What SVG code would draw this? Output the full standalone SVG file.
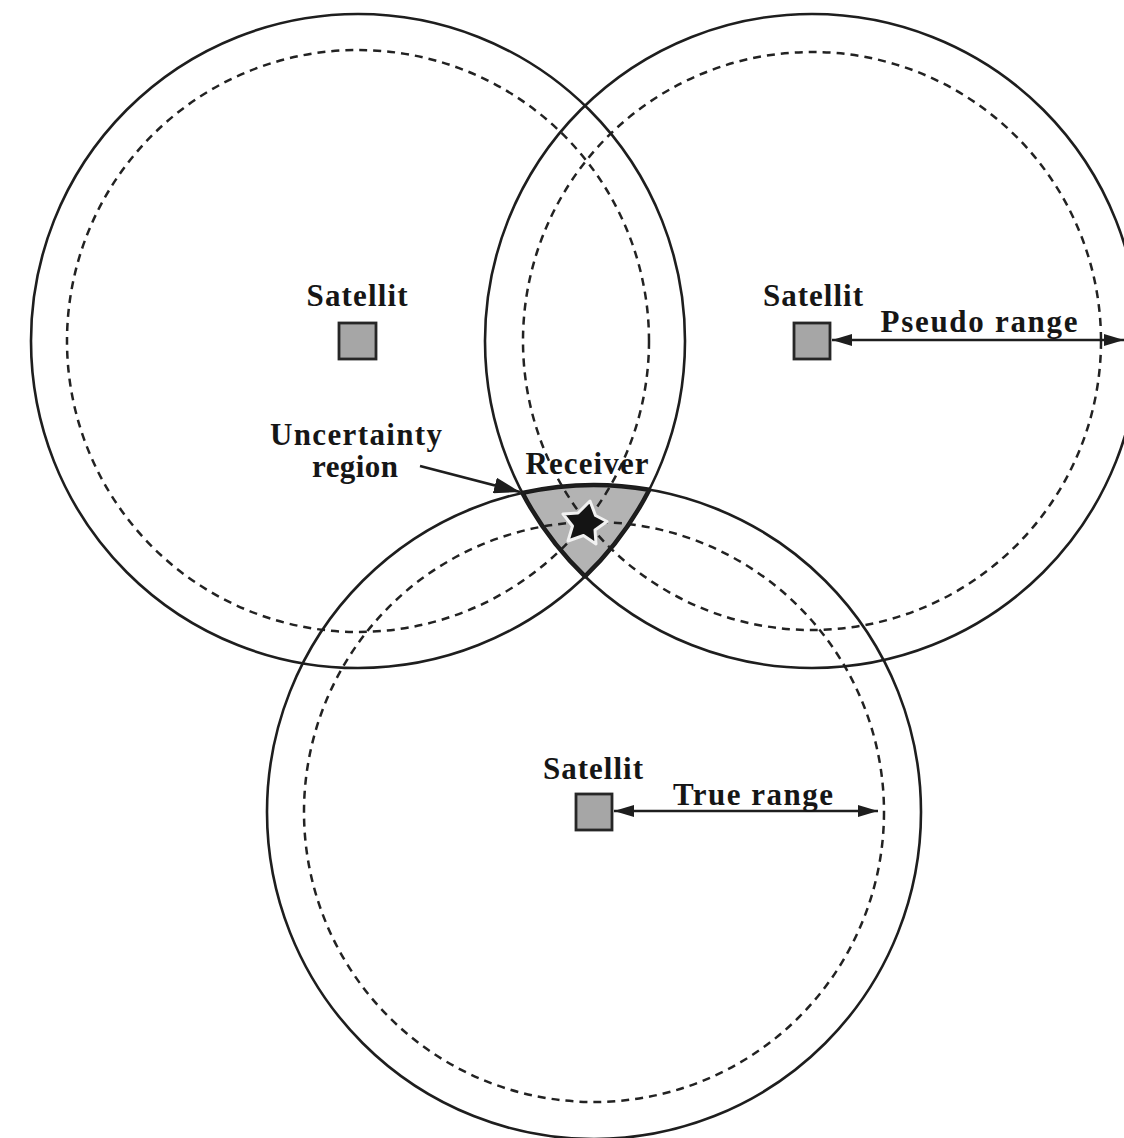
<svg xmlns="http://www.w3.org/2000/svg" width="1124" height="1138" viewBox="0 0 1124 1138">
<style>
.solid{fill:none;stroke:#1e1e1e;stroke-width:2.6}
.dash{fill:none;stroke:#222222;stroke-width:2.5;stroke-dasharray:8 6}
.sat{fill:#a6a6a6;stroke:#262626;stroke-width:2.8}
.lbl{font-family:"Liberation Serif","Times New Roman",serif;font-weight:bold;font-size:31px;fill:#161616}
.arr{stroke:#1e1e1e;stroke-width:2.6;fill:none}
</style>
<defs>
<marker id="ah" viewBox="0 0 20 12" refX="20" refY="6" markerWidth="20" markerHeight="12" markerUnits="userSpaceOnUse" orient="auto-start-reverse">
<path d="M0,0 L20,6 L0,12 z" fill="#1e1e1e"/>
</marker>
<marker id="ahBig" viewBox="0 0 26 16" refX="26" refY="8" markerWidth="26" markerHeight="16" markerUnits="userSpaceOnUse" orient="auto">
<path d="M0,0 L26,8 L0,16 z" fill="#1e1e1e"/>
</marker>
</defs>
<rect width="1124" height="1138" fill="#ffffff"/>

<g id="uncertainty-region">
<path d="M522.4,492.9 A327,327 0 0 1 649.3,489.7 A327,327 0 0 1 585,576.4 A327,327 0 0 1 522.4,492.9 Z" fill="#b3b3b3" stroke="#1a1a1a" stroke-width="4.5" stroke-linejoin="round"/>
</g>

<g id="pseudo-ranges">
<circle class="dash" cx="358" cy="341" r="291"/>
<circle class="dash" cx="812" cy="341" r="289"/>
<circle class="dash" cx="594" cy="812" r="290"/>
</g>

<g id="true-ranges">
<circle class="solid" cx="358" cy="341" r="327"/>
<circle class="solid" cx="812" cy="341" r="327"/>
<circle class="solid" cx="594" cy="812" r="327"/>
</g>

<g id="receiver">
<polygon points="590,501 595.5,515.5 607,521.5 595,530 596,544 583.5,535.5 568,541 572.5,526 563,514 578,513" fill="#141414" stroke="#f2f2f2" stroke-width="3" stroke-linejoin="round"/>
<text class="lbl" x="587" y="474" text-anchor="middle" textLength="123">Receiver</text>
</g>

<g id="satellite-1">
<rect class="sat" x="339" y="323" width="37" height="36"/>
<text class="lbl" x="357" y="306" text-anchor="middle" textLength="101">Satellit</text>
</g>

<g id="satellite-2">
<rect class="sat" x="794" y="323" width="36" height="36"/>
<text class="lbl" x="813" y="306" text-anchor="middle" textLength="100">Satellit</text>
</g>

<g id="satellite-3">
<rect class="sat" x="576" y="794" width="36" height="36"/>
<text class="lbl" x="593" y="779" text-anchor="middle" textLength="100">Satellit</text>
</g>

<g id="uncertainty-label">
<text class="lbl" x="356" y="445" text-anchor="middle" textLength="172">Uncertainty</text>
<text class="lbl" x="355" y="477" text-anchor="middle" textLength="86">region</text>
</g>

<g id="connectors">
<line class="arr" x1="832" y1="340" x2="1124" y2="340" marker-start="url(#ah)" marker-end="url(#ah)"/>
<text class="lbl" x="979" y="332" text-anchor="middle" textLength="197">Pseudo range</text>
<line class="arr" x1="614" y1="811" x2="878" y2="811" marker-start="url(#ah)" marker-end="url(#ah)"/>
<text class="lbl" x="753" y="805" text-anchor="middle" textLength="160">True range</text>
<line class="arr" x1="420" y1="466" x2="520" y2="492" marker-end="url(#ahBig)"/>
</g>
</svg>
